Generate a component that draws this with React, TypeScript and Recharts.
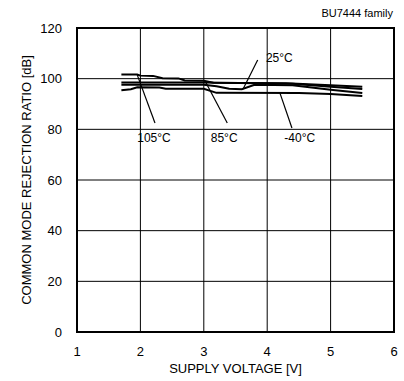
import React from 'react';
import { LineChart, Line, XAxis, YAxis, CartesianGrid, ReferenceArea, ReferenceLine, ReferenceDot, Label } from 'recharts';

const xTicks = [1, 2, 3, 4, 5, 6];
const yTicks = [0, 20, 40, 60, 80, 100, 120];

const series105 = [
  { v: 1.7, db: 101.6 }, { v: 1.95, db: 101.6 }, { v: 2.0, db: 101.2 }, { v: 2.2, db: 101.1 },
  { v: 2.35, db: 100.2 }, { v: 2.6, db: 100.1 }, { v: 2.7, db: 99.3 }, { v: 3.0, db: 99.2 },
  { v: 3.15, db: 98.4 }, { v: 4.3, db: 98.2 }, { v: 5.0, db: 97.4 }, { v: 5.5, db: 96.8 },
];
const series85 = [
  { v: 1.7, db: 98.5 }, { v: 3.0, db: 98.5 }, { v: 4.4, db: 98.0 }, { v: 5.0, db: 96.8 }, { v: 5.5, db: 95.9 },
];
const series25 = [
  { v: 1.7, db: 97.6 }, { v: 3.0, db: 97.6 }, { v: 3.2, db: 97.0 }, { v: 3.4, db: 96.0 },
  { v: 3.6, db: 95.8 }, { v: 3.8, db: 97.6 }, { v: 4.4, db: 97.4 }, { v: 5.0, db: 95.6 }, { v: 5.5, db: 94.3 },
];
const seriesM40 = [
  { v: 1.7, db: 95.4 }, { v: 1.85, db: 95.8 }, { v: 1.95, db: 96.6 }, { v: 2.3, db: 96.5 },
  { v: 2.4, db: 96.0 }, { v: 3.0, db: 96.0 }, { v: 3.2, db: 94.4 }, { v: 4.5, db: 94.3 },
  { v: 5.0, db: 93.9 }, { v: 5.5, db: 93.2 },
];

const pointers = [
  { name: '105°C', x1: 1.95, y1: 101.5, x2: 2.23, y2: 82.5, lx: 1.95, ly: 77 },
  { name: '85°C', x1: 3.02, y1: 99.1, x2: 3.37, y2: 82.5, lx: 3.11, ly: 77 },
  { name: '-40°C', x1: 4.2, y1: 94.4, x2: 4.39, y2: 80.5, lx: 4.27, ly: 77 },
  { name: '25°C', x1: 3.62, y1: 95.9, x2: 3.85, y2: 107.4, lx: 3.98, ly: 108.6 },
];

const FONT = '"Liberation Sans", Arial, sans-serif';

const makeLabel = (text: string) => (props: any) => {
  const vb = props.viewBox || {};
  const x = vb.x + (vb.width || 0) / 2;
  const y = vb.y + (vb.height || 0) / 2;
  return (
    <text x={x} y={y} dy={5} fontSize={12} fontFamily={FONT} fill="#000" textAnchor="start">
      {text}
    </text>
  );
};

export default function App() {
  const allSeries = [series105, series85, series25, seriesM40];
  return (
    <div style={{ position: 'absolute', left: 0, top: 0, width: 404, height: 381, background: '#fff' }}>
      <div style={{ position: 'absolute', right: 11, top: 7, fontFamily: FONT, fontSize: 11, color: '#000' }}>
        BU7444 family
      </div>
      <LineChart width={404} height={381} margin={{ top: 28, right: 10, left: 0, bottom: 0 }}>
        <CartesianGrid stroke="#000" strokeWidth={1} horizontalValues={yTicks} verticalValues={xTicks} />
        <XAxis
          type="number"
          dataKey="v"
          domain={[1, 6]}
          ticks={xTicks}
          allowDataOverflow
          tickLine={false}
          axisLine={false}
          height={49}
          tickMargin={9}
          tick={{ fill: '#000', fontSize: 13, fontFamily: FONT }}
        >
          <Label value="SUPPLY VOLTAGE [V]" position="insideBottom" offset={8} style={{ fill: '#000', fontSize: 13, fontFamily: FONT }} />
        </XAxis>
        <YAxis
          type="number"
          domain={[0, 120]}
          ticks={yTicks}
          allowDataOverflow
          tickLine={false}
          axisLine={false}
          width={77}
          tickMargin={9}
          tick={{ fill: '#000', fontSize: 13, fontFamily: FONT }}
        >
          <Label value="COMMON MODE REJECTION RATIO [dB]" angle={-90} position="insideLeft" offset={26} style={{ fill: '#000', fontSize: 13, fontFamily: FONT, textAnchor: 'middle' }} />
        </YAxis>
        <ReferenceArea x1={1} x2={6} y1={0} y2={120} fill="none" stroke="#000" strokeWidth={2} fillOpacity={0} />
        {allSeries.map((s, i) => (
          <Line
            key={i}
            data={s}
            dataKey="db"
            type="linear"
            stroke="#000"
            strokeWidth={2}
            dot={false}
            isAnimationActive={false}
          />
        ))}
        {pointers.map((p) => (
          <ReferenceLine
            key={p.name + 'l'}
            segment={[{ x: p.x1, y: p.y1 }, { x: p.x2, y: p.y2 }]}
            stroke="#000"
            strokeWidth={1.2}
          />
        ))}
        {pointers.map((p) => (
          <ReferenceDot key={p.name + 'd'} x={p.lx} y={p.ly} r={0} fill="none" stroke="none" label={makeLabel(p.name)} />
        ))}
      </LineChart>
    </div>
  );
}
